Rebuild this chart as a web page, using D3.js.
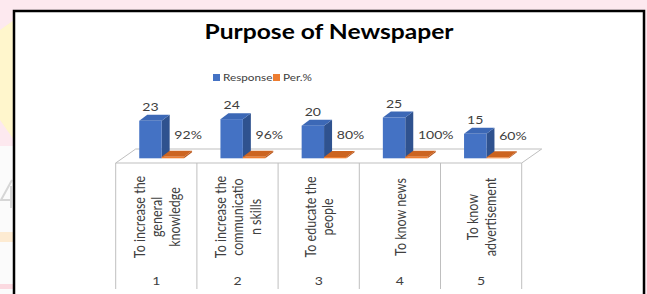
<!DOCTYPE html>
<html>
<head>
<meta charset="utf-8">
<script src="https://cdn.jsdelivr.net/npm/d3@7"></script>
<style>
  body { margin: 0; background: #fde9ef; }
  svg { display: block; }
</style>
</head>
<body>
<script>
// chart data
const categories = ["1", "2", "3", "4", "5"];
const categoryLabels = [
  ["To increase the", "general", "knowledge"],
  ["To increase the", "communicatio", "n skills"],
  ["To educate the", "people"],
  ["To know  news"],
  ["To know", "advertisement"]
];
const seriesNames = ["Response", "Per.%"];
const response = [23, 24, 20, 25, 15];
const percent = [0.92, 0.96, 0.80, 1.00, 0.60];
const percentLabels = ["92%", "96%", "80%", "100%", "60%"];

const width = 647, height = 294;
const stretch = 1.2;   // the picture is a little wider than tall
const font = "Lato, 'Open Sans', sans-serif";

const colors = {
  "Response": { front: "#4472c4", side: "#2f528f", top: "#3c68b6" },
  "Per.%": { front: "#ed7d31", side: "#b8551a", top: "#cc6420" }
};

const svg = d3.select("body").append("svg")
  .attr("width", width)
  .attr("height", height);

// page background outside the chart frame
svg.append("rect").attr("width", width).attr("height", height).attr("fill", "#fde9ef");
svg.append("path").attr("d", "M0,30 L14,20 L14,140 L0,120 Z").attr("fill", "#fff6cc");
svg.append("rect").attr("x", 0).attr("y", 146).attr("width", 14).attr("height", 148).attr("fill", "#fbfbfb");
svg.append("rect").attr("x", 0).attr("y", 232).attr("width", 14).attr("height", 10).attr("fill", "#fdebd2");
svg.append("rect").attr("x", 0).attr("y", 284).attr("width", 14).attr("height", 5).attr("fill", "#fbd9e0");
// faint watermark stroke behind the frame
svg.append("path").attr("d", "M12,180 L1,200 L12,200 M11,186 L11,208")
  .attr("fill", "none").attr("stroke", "#d6d6d6").attr("stroke-width", 2);

// chart frame
svg.append("rect")
  .attr("x", 14).attr("y", 11)
  .attr("width", 630).attr("height", 300)
  .attr("fill", "#ffffff")
  .attr("stroke", "#000000")
  .attr("stroke-width", 2.5);

const floorFront = 163, depthX = 20, depthY = -14;
const barDX = 8, barDY = -6;

const x = d3.scaleBand().domain(categories).range([115.7, 521.7]).padding(0);
const bw = x.bandwidth();
const xs = d3.scaleBand().domain(seriesNames).range([bw * 0.29, bw * 0.842]).padding(0);
const y = d3.scaleLinear().domain([0, 25]).range([158.3, 117.5]);

function stretchedText(g, tx, ty, str) {
  return g.append("text")
    .attr("transform", `translate(${tx},${ty}) scale(${stretch},1)`)
    .attr("font-family", font)
    .text(str);
}

// title
stretchedText(svg, 329, 38.5, "Purpose of Newspaper")
  .attr("text-anchor", "middle")
  .attr("font-size", 20.5)
  .attr("font-weight", "bold")
  .attr("fill", "#000000");

// legend
const legend = svg.append("g");
const legendX = [213, 273];
seriesNames.forEach((s, i) => {
  legend.append("rect")
    .attr("x", legendX[i]).attr("y", 74)
    .attr("width", 7).attr("height", 7)
    .attr("fill", colors[s].front);
  stretchedText(legend, legendX[i] + 10, 81, s)
    .attr("font-size", 9.8)
    .attr("fill", "#404040");
});

// 3d floor
const x0 = x.range()[0], x1 = x.range()[1];
svg.append("polygon")
  .attr("points", [
    [x0, floorFront], [x1, floorFront],
    [x1 + depthX, floorFront + depthY], [x0 + depthX, floorFront + depthY]
  ].join(" "))
  .attr("fill", "#ffffff")
  .attr("stroke", "#bfbfbf")
  .attr("stroke-width", 1);

// category dividers below the floor
const edges = categories.map(c => x(c)).concat([x1]);
svg.selectAll("line.divider")
  .data(edges)
  .enter()
  .append("line")
  .attr("class", "divider")
  .attr("x1", d => d).attr("x2", d => d)
  .attr("y1", floorFront).attr("y2", 289)
  .attr("stroke", "#bfbfbf")
  .attr("stroke-width", 1);

// bars
const bars = svg.append("g");
categories.forEach((c, i) => {
  [[seriesNames[0], response[i]], [seriesNames[1], percent[i]]].forEach(([s, v]) => {
    const left = x(c) + xs(s);
    const right = left + xs.bandwidth();
    const top = y(v), bottom = y(0);
    const col = colors[s];
    bars.append("polygon")
      .attr("points", [[right, bottom], [right + barDX, bottom + barDY], [right + barDX, top + barDY], [right, top]].join(" "))
      .attr("fill", col.side);
    bars.append("polygon")
      .attr("points", [[left, top], [right, top], [right + barDX, top + barDY], [left + barDX, top + barDY]].join(" "))
      .attr("fill", col.top);
    bars.append("rect")
      .attr("x", left).attr("y", top)
      .attr("width", xs.bandwidth()).attr("height", Math.max(bottom - top, 0.5))
      .attr("fill", col.front);
  });
});

// data labels
categories.forEach((c, i) => {
  const bx = x(c) + xs("Response") + xs.bandwidth() / 2;
  stretchedText(svg, bx, y(response[i]) - 10, String(response[i]))
    .attr("text-anchor", "middle")
    .attr("font-size", 11.7)
    .attr("fill", "#404040");
  const ox = x(c) + xs("Per.%") + xs.bandwidth() / 2;
  stretchedText(svg, ox + 1.5, y(percent[i]) - 17.5, percentLabels[i])
    .attr("font-size", 11.7)
    .attr("fill", "#404040");
});

// rotated category labels and numbers
categories.forEach((c, i) => {
  const cx = x(c) + bw / 2;
  const lines = categoryLabels[i];
  lines.forEach((ln, j) => {
    const lx = cx + (j - (lines.length - 1) / 2) * 17.5;
    svg.append("text")
      .attr("transform", `translate(${lx},217) scale(${stretch},1) rotate(-90)`)
      .attr("text-anchor", "middle")
      .attr("dominant-baseline", "central")
      .attr("font-family", font)
      .attr("font-size", 12.5)
      .attr("fill", "#404040")
      .text(ln);
  });
  stretchedText(svg, cx, 285, c)
    .attr("text-anchor", "middle")
    .attr("font-size", 11.7)
    .attr("fill", "#404040");
});
</script>
</body>
</html>
